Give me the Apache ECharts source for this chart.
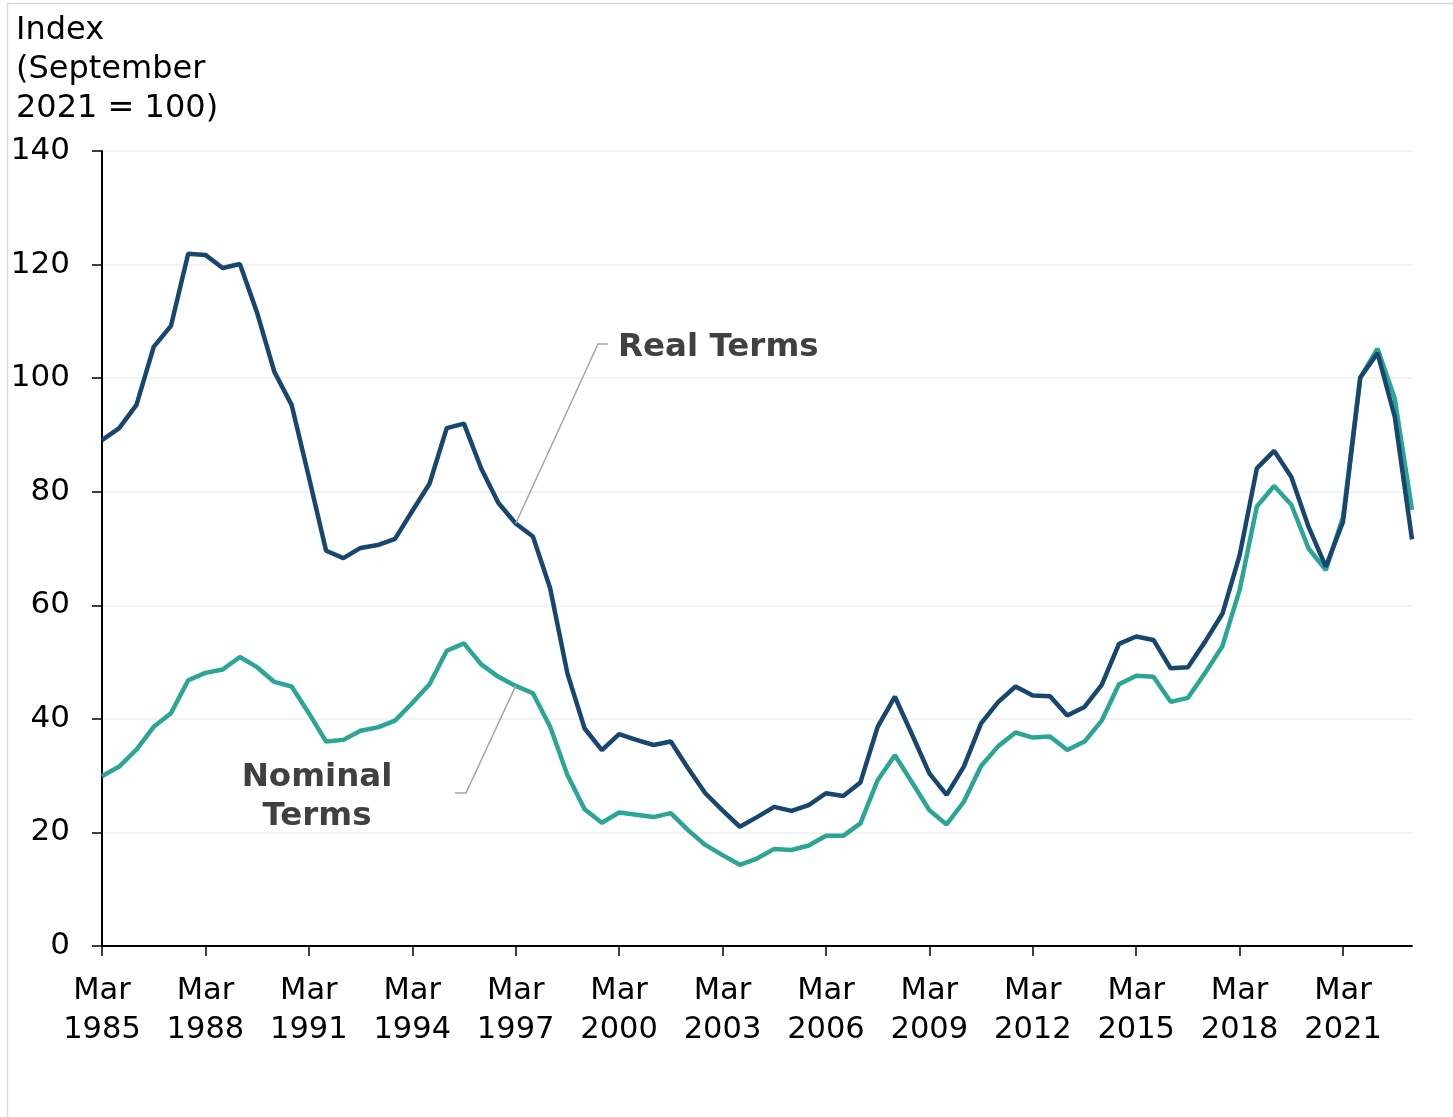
<!DOCTYPE html>
<html>
<head>
<meta charset="utf-8">
<script src="https://cdn.jsdelivr.net/npm/echarts@6/dist/echarts.min.js"></script>
<style>
html,body{margin:0;padding:0;background:#fff;}
#chart{width:1453px;height:1117px;}
</style>
</head>
<body>
<div id="chart"></div>
<script>
// Half-yearly periods, March 1985 to March 2023
const periods = [];
for (let y = 1985; y <= 2023; y++) {
  periods.push('Mar ' + y);
  if (y < 2023) periods.push('Sep ' + y);
}

const yTicks = [0, 20, 40, 60, 80, 100, 120, 140];

const realTerms = [
  89.1, 91.2, 95.3, 105.5, 109.2, 121.9, 121.7, 119.4, 120.1, 111.5,
  101.1, 95.3, 82.6, 69.6, 68.3, 70.1, 70.6, 71.7, 76.6, 81.4,
  91.2, 92.0, 84.1, 78.0, 74.4, 72.1, 63.0, 48.0, 38.3, 34.5,
  37.3, 36.3, 35.4, 36.0, 31.3, 26.9, 23.9, 21.0, 22.7, 24.5,
  23.8, 24.8, 26.9, 26.4, 28.8, 38.6, 43.9, 37.2, 30.4, 26.6,
  31.6, 39.2, 43.0, 45.7, 44.1, 44.0, 40.6, 42.1, 46.0, 53.2,
  54.5, 53.9, 48.9, 49.1, 53.6, 58.5, 68.8, 84.1, 87.2, 82.6,
  73.8, 66.8, 74.7, 100.1, 104.4, 93.2, 71.6
];

const nominalTerms = [
  29.9, 31.6, 34.6, 38.6, 41.0, 46.8, 48.1, 48.7, 50.9, 49.1,
  46.5, 45.7, 41.0, 36.0, 36.3, 37.9, 38.5, 39.7, 42.8, 46.1,
  52.0, 53.3, 49.6, 47.4, 45.8, 44.5, 38.6, 30.1, 24.1, 21.7,
  23.5, 23.1, 22.7, 23.4, 20.4, 17.8, 16.0, 14.3, 15.4, 17.1,
  16.9, 17.7, 19.4, 19.4, 21.6, 29.2, 33.6, 28.8, 23.9, 21.4,
  25.4, 31.7, 35.2, 37.6, 36.7, 36.9, 34.5, 36.0, 39.7, 46.1,
  47.6, 47.4, 43.0, 43.7, 48.1, 52.8, 62.7, 77.4, 81.0, 77.7,
  70.0, 66.2, 75.6, 100.1, 105.2, 96.4, 76.8
];

const seriesNames = ['Real Terms', 'Nominal Terms'];
const yTitle = 'Index\n(September\n2021 = 100)';

const REAL_COLOR = '#17466f';
const NOM_COLOR = '#2ba696';
const FONT = '"DejaVu Sans", Verdana, sans-serif';

const chart = echarts.init(document.getElementById('chart'), null, {renderer: 'canvas'});

const option = {
  animation: false,
  backgroundColor: '#fff',
  grid: {left: 102, right: 41, top: 151, bottom: 171, containLabel: false},
  xAxis: {
    type: 'category',
    data: periods,
    boundaryGap: false,
    axisLine: {lineStyle: {color: '#000', width: 2}},
    axisTick: {
      show: true, length: 10, inside: false,
      interval: (i) => i % 6 === 0,
      lineStyle: {color: '#000', width: 1.5}
    },
    axisLabel: {
      interval: (i) => i % 6 === 0,
      formatter: (v) => v.replace(' ', '\n'),
      color: '#000',
      fontFamily: FONT,
      fontSize: 30.5,
      lineHeight: 39,
      margin: 26
    },
    splitLine: {show: false}
  },
  yAxis: {
    type: 'value',
    min: yTicks[0],
    max: yTicks[yTicks.length - 1],
    interval: 20,
    axisLine: {show: true, lineStyle: {color: '#000', width: 2}},
    axisTick: {show: true, length: 10, lineStyle: {color: '#000', width: 1.5}},
    axisLabel: {color: '#000', fontFamily: FONT, fontSize: 31, margin: 32,
                verticalAlign: 'middle', padding: [4, 0, 0, 0]},
    splitLine: {show: true, lineStyle: {color: '#efefef', width: 1.5}}
  },
  series: [
    {
      name: seriesNames[1], type: 'line', data: nominalTerms,
      showSymbol: false, symbol: 'none',
      lineStyle: {color: NOM_COLOR, width: 4.5},
      itemStyle: {color: NOM_COLOR}, z: 2
    },
    {
      name: seriesNames[0], type: 'line', data: realTerms,
      showSymbol: false, symbol: 'none',
      lineStyle: {color: REAL_COLOR, width: 4.5},
      itemStyle: {color: REAL_COLOR}, z: 3
    }
  ]
};
chart.setOption(option);

// Annotation anchors on the data
const anchorIdx = 24;
const pReal = chart.convertToPixel({xAxisIndex: 0, yAxisIndex: 0}, [anchorIdx, realTerms[anchorIdx]]);
const pNom = chart.convertToPixel({xAxisIndex: 0, yAxisIndex: 0}, [anchorIdx, nominalTerms[anchorIdx]]);

chart.setOption({
  graphic: [
    {
      type: 'rect', silent: true, z: 0,
      shape: {x: 7.5, y: 3.5, width: 1460, height: 1130},
      style: {fill: 'none', stroke: '#d9d9d9', lineWidth: 1.5}
    },
    {
      type: 'text', left: 16, top: 11, silent: true,
      style: {text: yTitle, fill: '#000', font: '32px ' + FONT, lineHeight: 39}
    },
    {
      type: 'polyline', silent: true, z: 10,
      shape: {points: [[608, 344], [598, 344], [pReal[0], pReal[1]]]},
      style: {stroke: '#a6a6a6', lineWidth: 1.5, fill: 'none'}
    },
    {
      type: 'polyline', silent: true, z: 10,
      shape: {points: [[455, 793], [466, 793], [pNom[0], pNom[1]]]},
      style: {stroke: '#a6a6a6', lineWidth: 1.5, fill: 'none'}
    },
    {
      type: 'text', x: 618, y: 348, silent: true, z: 10,
      style: {text: seriesNames[0], fill: '#404040', font: 'bold 32.5px ' + FONT,
              textAlign: 'left', textVerticalAlign: 'middle'}
    },
    {
      type: 'text', x: 317, y: 797, silent: true, z: 10,
      style: {text: seriesNames[1].replace(' ', '\n'), fill: '#404040', font: 'bold 32.5px ' + FONT,
              textAlign: 'center', textVerticalAlign: 'middle', lineHeight: 39.5}
    }
  ]
});
</script>
</body>
</html>
